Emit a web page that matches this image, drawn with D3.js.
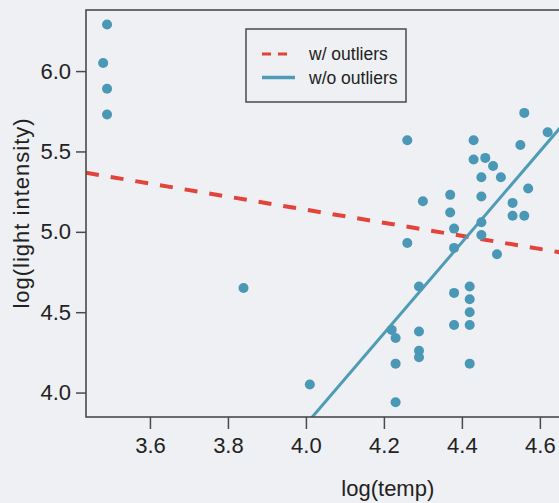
<!DOCTYPE html>
<html>
<head>
<meta charset="utf-8">
<script src="https://cdn.jsdelivr.net/npm/d3@7"></script>
<style>
  html, body { margin: 0; padding: 0; background: #eef0f3; }
  svg { display: block; font-family: "Liberation Sans", Arial, sans-serif; }
</style>
</head>
<body>
<svg width="559" height="503"></svg>
<script>
// log(temp) and log(light intensity) for each star
var logTemp = [3.49, 3.48, 3.49, 3.49, 3.84, 4.01, 4.26, 4.26, 4.30, 4.29,
               4.29, 4.29, 4.29, 4.22, 4.23, 4.23, 4.23, 4.37, 4.37, 4.38,
               4.38, 4.38, 4.38, 4.42, 4.42, 4.42, 4.42, 4.42, 4.43, 4.43,
               4.46, 4.48, 4.45, 4.50, 4.45, 4.45, 4.45, 4.49, 4.53, 4.53,
               4.56, 4.57, 4.55, 4.56, 4.62];
var logLight = [6.29, 6.05, 5.89, 5.73, 4.65, 4.05, 5.57, 4.93, 5.19, 4.66,
                4.38, 4.26, 4.22, 4.39, 4.34, 4.18, 3.94, 5.23, 5.12, 5.02,
                4.90, 4.62, 4.42, 4.66, 4.58, 4.50, 4.42, 4.18, 5.57, 5.45,
                5.46, 5.41, 5.34, 5.34, 5.22, 5.06, 4.98, 4.86, 5.18, 5.10,
                5.10, 5.27, 5.54, 5.74, 5.62];

// fitted lines: intercept + slope * log(temp)
var fitLabels = ["w/ outliers", "w/o outliers"];
var fitIntercepts = [6.764, -7.518];
var fitSlopes = [-0.4066, 2.830];

var xTicks = [3.6, 3.8, 4.0, 4.2, 4.4, 4.6];
var yTicks = [4.0, 4.5, 5.0, 5.5, 6.0];

var svg = d3.select("svg"),
    margin = {top: 10, right: -7, bottom: 86, left: 86},
    width = 559 - margin.left - margin.right,
    height = 503 - margin.top - margin.bottom,
    g = svg.append("g").attr("transform", "translate(" + margin.left + "," + margin.top + ")");

var dotColor = "#4a97b6",
    redColor = "#e2433a",
    blueColor = "#4f9bb8",
    axisColor = "#4a4a4a";

var x = d3.scaleLinear().domain([3.436, 4.667]).range([0, width]);
var y = d3.scaleLinear().domain([3.848, 6.38]).range([height, 0]);

g.append("clipPath").attr("id", "plot-clip")
  .append("rect").attr("width", width).attr("height", height);

// lines
var plot = g.append("g").attr("clip-path", "url(#plot-clip)");
fitLabels.forEach(function(lab, i) {
  var x0 = x.domain()[0], x1 = x.domain()[1];
  plot.append("line")
      .attr("x1", x(x0)).attr("y1", y(fitIntercepts[i] + fitSlopes[i] * x0))
      .attr("x2", x(x1)).attr("y2", y(fitIntercepts[i] + fitSlopes[i] * x1))
      .attr("stroke", i == 0 ? redColor : blueColor)
      .attr("stroke-width", i == 0 ? 4 : 3)
      .attr("stroke-dasharray", i == 0 ? "13,12" : null);
});

// points
g.selectAll("circle.pt")
  .data(logTemp)
  .enter().append("circle")
    .attr("class", "pt")
    .attr("cx", function(d) { return x(d); })
    .attr("cy", function(d, i) { return y(logLight[i]); })
    .attr("r", 5)
    .attr("fill", dotColor);

// box
g.append("rect")
    .attr("width", width).attr("height", height)
    .attr("fill", "none")
    .attr("stroke", axisColor)
    .attr("stroke-width", 1.6);

var xAxis = g.append("g")
    .attr("transform", "translate(0," + height + ")")
    .call(d3.axisBottom(x).tickValues(xTicks).tickFormat(d3.format(".1f")).tickSize(12).tickPadding(8));
var yAxis = g.append("g")
    .call(d3.axisLeft(y).tickValues(yTicks).tickFormat(d3.format(".1f")).tickSize(10).tickPadding(5));

[xAxis, yAxis].forEach(function(ax) {
  ax.select(".domain").remove();
  ax.selectAll("line").attr("stroke", axisColor).attr("stroke-width", 1.5);
  ax.selectAll("text").attr("fill", "#222").style("font-size", "22px");
});

svg.append("text")
    .attr("x", margin.left + x(4.21)).attr("y", 496)
    .attr("text-anchor", "middle")
    .attr("fill", "#222")
    .style("font-size", "22px")
    .text("log(temp)");

svg.append("text")
    .attr("transform", "translate(29," + 213 + ") rotate(-90)")
    .attr("text-anchor", "middle")
    .attr("fill", "#222")
    .style("font-size", "22px")
    .style("letter-spacing", "1px")
    .text("log(light intensity)");

// legend
var legend = svg.append("g").attr("transform", "translate(246,29)");
legend.append("rect")
    .attr("width", 160).attr("height", 73)
    .attr("fill", "#eef0f3")
    .attr("stroke", axisColor)
    .attr("stroke-width", 1.5);
fitLabels.forEach(function(lab, i) {
  var ly = 25 + i * 23.5;
  legend.append("line")
      .attr("x1", 16).attr("x2", i == 0 ? 41 : 49)
      .attr("y1", ly).attr("y2", ly)
      .attr("stroke", i == 0 ? redColor : blueColor)
      .attr("stroke-width", i == 0 ? 3 : 3.5)
      .attr("stroke-dasharray", i == 0 ? "9,7" : null);
  legend.append("text")
      .attr("x", 63).attr("y", ly)
      .attr("dy", "0.35em")
      .attr("fill", "#222")
      .style("font-size", "17.5px")
      .text(lab);
});
</script>
</body>
</html>
